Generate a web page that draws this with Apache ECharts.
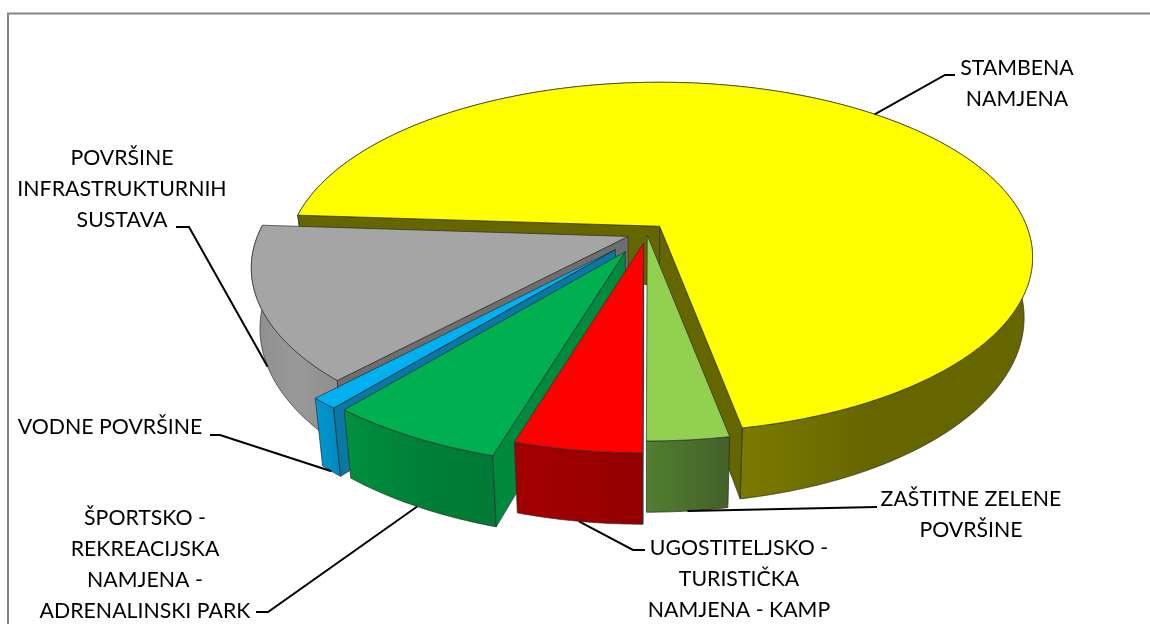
<!DOCTYPE html>
<html>
<head>
<meta charset="utf-8">
<style>
  html, body { margin: 0; padding: 0; background: #fff; }
  #chart { width: 1150px; height: 624px; }
</style>
</head>
<body>
<div id="chart"></div>
<script src="https://cdn.jsdelivr.net/npm/echarts@6/dist/echarts.min.js"></script>
<script>
// clockwise, starting from the yellow slice
var categories = [
  "STAMBENA\nNAMJENA",
  "ZAŠTITNE ZELENE\nPOVRŠINE",
  "UGOSTITELJSKO -\nTURISTIČKA\nNAMJENA - KAMP",
  "ŠPORTSKO -\nREKREACIJSKA\nNAMJENA -\nADRENALINSKI PARK",
  "VODNE POVRŠINE",
  "POVRŠINE\nINFRASTRUKTURNIH\nSUSTAVA"
];
var values = [70.9, 3.0, 4.6, 6.3, 1.0, 14.1];
var explode = [0.053, 0.012, 0.06, 0.125, 0.13, 0.055];
// exploded slices come out a bit bigger in the original's perspective
var rimScale = [1, 1, 1.015, 1.036, 1.038, 1.01];

var topColors = ["#ffff00", "#92d050", "#ff0000", "#00b050", "#00b0f0", "#a5a5a5"];
var innerColors = ["#666600", "#4c6a2c", "#990000", "#008a3e", "#0a78a5", "#6e6e6e"];
var wallStops = [
  [[0, "#666600"], [0.61, "#7a7a00"], [0.78, "#666600"], [1, "#666600"]],
  [[0, "#527f30"], [1, "#43602a"]],
  [[0, "#a30000"], [1, "#940000"]],
  [[0, "#00913f"], [0.5, "#007f38"], [1, "#007a36"]],
  [[0, "#0099d2"], [1, "#0088bb"]],
  [[0, "#8e8e8e"], [0.5, "#999999"], [1, "#8c8c8c"]]
];
// painter's order, back to front
var drawOrder = [0, 5, 4, 3, 1, 2];

// leader elbows and label boxes (centre x, top y)
var leaderPoints = [
  [[945, 75], [955, 75]],
  [[877, 507]],
  [[633, 550], [645, 550]],
  [[268, 612], [256, 612]],
  [[220, 435], [210, 435]],
  [[189, 227], [176, 227]]
];
var labelPos = [[1017, 53], [971, 484], [739, 533], [145, 503], [110, 412], [122, 143]];

// projection of the tilted disc
var cx = 646.8, cy = 233, radius = 367, radiusY = 169.5, persp = 0.177;
var depth = 58.6, shrink = 0.978;
var startAngle = 273.8;

var total = values.reduce(function (a, b) { return a + b; }, 0);
var slices = [];
var acc = startAngle;
values.forEach(function (v, i) {
  var span = v / total * 360;
  slices.push({ from: acc, to: acc + span, mid: acc + span / 2, explode: explode[i], rim: rimScale[i] });
  acc += span;
});

function rad(d) { return d * Math.PI / 180; }

function apex(s) {
  return [
    cx + radius * s.explode * Math.sin(rad(s.mid)),
    cy - radiusY * s.explode * Math.cos(rad(s.mid))
  ];
}

// r: 0 centre .. 1 rim, z: 0 top .. 1 bottom
function project(s, angle, r, z) {
  var a = apex(s);
  var X = r * s.rim * Math.sin(rad(angle));
  var Y = -r * s.rim * Math.cos(rad(angle));
  var w = 1 / (1 - persp * Y);
  var scale = 1 - (1 - shrink) * z;
  var px = a[0] + radius * X * w;
  return [
    cx + (px - cx) * scale,
    a[1] + radiusY * Y * w + depth * w * z
  ];
}

function rimPoints(s, z) {
  var pts = [];
  var n = Math.ceil(s.to - s.from) * 2;
  for (var i = 0; i <= n; i++) {
    pts.push(project(s, s.from + (s.to - s.from) * i / n, 1, z));
  }
  return pts;
}

function poly(points, fill, z2) {
  return {
    type: "polygon",
    z2: z2,
    shape: { points: points },
    style: { fill: fill, stroke: "#2b2b2b", lineWidth: 0.7 }
  };
}

function radialWall(s, angle) {
  return [
    project(s, angle, 0, 0),
    project(s, angle, 1, 0),
    project(s, angle, 1, 1),
    project(s, angle, 0, 1)
  ];
}

function signedArea(pts) {
  var sum = 0;
  for (var i = 0; i < pts.length; i++) {
    var q = pts[(i + 1) % pts.length];
    sum += pts[i][0] * q[1] - q[0] * pts[i][1];
  }
  return sum;
}

function renderSlice(params, api) {
  var i = api.value(0);
  var s = slices[i];
  var rank = drawOrder.indexOf(i) * 10;
  var top = rimPoints(s, 0);
  var bottom = rimPoints(s, 1);
  var children = [];

  var gradient = new echarts.graphic.LinearGradient(0, 0, 1, 0,
    wallStops[i].map(function (c) { return { offset: c[0], color: c[1] }; }));
  children.push(poly(top.concat(bottom.slice().reverse()), gradient, rank));

  // only the walls facing the viewer
  var fromWall = radialWall(s, s.from);
  var toWall = radialWall(s, s.to);
  if (signedArea(fromWall) < 0) {
    children.push(poly(fromWall, innerColors[i], rank + 1));
  }
  if (signedArea(toWall) > 0) {
    children.push(poly(toWall, innerColors[i], rank + 2));
  }

  children.push(poly([apex(s)].concat(top), topColors[i], rank + 3));
  return { type: "group", children: children };
}

function renderLabel(params, api) {
  var i = api.value(0);
  var s = slices[i];
  var line = [project(s, s.mid, 1, i === 0 ? 0 : 1)].concat(leaderPoints[i]);
  return {
    type: "group",
    children: [
      {
        type: "polyline",
        z2: 100,
        shape: { points: line },
        style: { fill: null, stroke: "#000", lineWidth: 2 }
      },
      {
        type: "text",
        z2: 101,
        style: {
          x: labelPos[i][0],
          y: labelPos[i][1],
          text: categories[i],
          fill: "#000",
          font: "21.3px Lato",
          lineHeight: 31,
          align: "center",
          verticalAlign: "top"
        }
      }
    ]
  };
}

var indexData = categories.map(function (c, i) { return [i, values[i]]; });

var myChart = echarts.init(document.getElementById("chart"), null, { renderer: "canvas" });
myChart.setOption({
  animation: false,
  backgroundColor: "#fff",
  tooltip: { show: false },
  graphic: [{
    type: "rect",
    shape: { x: 8, y: 13.5, width: 1300, height: 800 },
    style: { fill: null, stroke: "#868686", lineWidth: 2 },
    silent: true,
    z: -1
  }],
  series: [
    { type: "custom", coordinateSystem: "none", renderItem: renderSlice, data: indexData, silent: true },
    { type: "custom", coordinateSystem: "none", renderItem: renderLabel, data: indexData, silent: true, z: 5 }
  ]
});
</script>
</body>
</html>
